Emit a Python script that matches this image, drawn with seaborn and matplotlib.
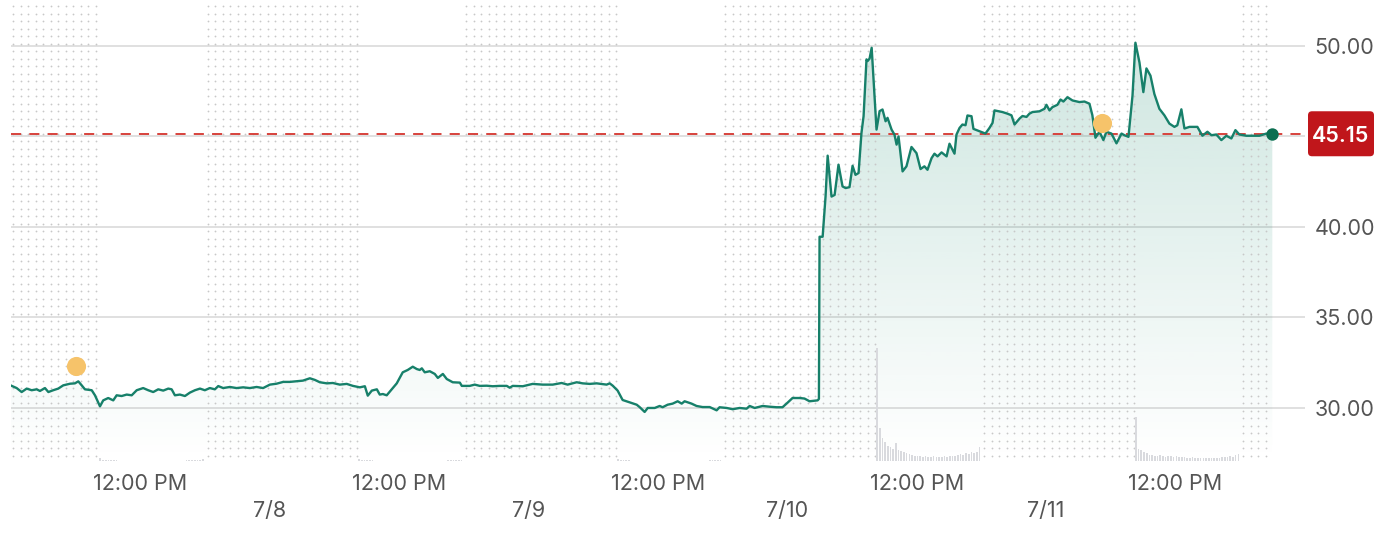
import numpy as np
import matplotlib
matplotlib.use("Agg")
import matplotlib.pyplot as plt
import matplotlib.transforms as mtransforms
from matplotlib.patches import FancyBboxPatch
from matplotlib.colors import to_rgb
import seaborn as sns

sns.set_theme(style="white")
plt.rcParams['font.family'] = ['Inter', 'DejaVu Sans']

# ---------------- data ----------------
# time axis: trading hours elapsed since 4:00 AM on 7/7, each day = 16 h (4:00-20:00)
day_labels = ["7/7", "7/8", "7/9", "7/10", "7/11"]
last_price = 45.15

hours_a = [0.0, 0.38, 0.69, 1.0, 1.31, 1.62, 1.82, 2.13, 2.34, 2.64, 2.95, 3.26, 3.68, 3.98, 4.19,
           4.40, 4.60, 5.02, 5.22, 5.53, 5.73, 6.04, 6.35, 6.56, 6.87, 7.18, 7.49, 7.80, 8.20, 8.51,
           8.82, 9.13, 9.44, 9.75, 9.96, 10.16, 10.47, 10.78, 11.09, 11.40, 11.71, 12.01, 12.32,
           12.63, 12.84, 13.14, 13.56, 13.97, 14.38, 14.79, 15.21, 15.61, 16.03, 16.44, 16.85,
           17.26, 17.88]
price_a = [31.25, 31.10, 30.88, 31.07, 30.98, 31.03, 30.94, 31.10, 30.88, 30.98, 31.07, 31.25,
           31.34, 31.36, 31.47, 31.25, 31.03, 30.98, 30.70, 30.09, 30.42, 30.55, 30.42, 30.70,
           30.66, 30.74, 30.70, 30.98, 31.10, 30.98, 30.88, 31.03, 30.96, 31.07, 31.03, 30.70,
           30.74, 30.66, 30.85, 30.98, 31.07, 30.98, 31.10, 31.03, 31.21, 31.10, 31.16, 31.10,
           31.14, 31.10, 31.16, 31.10, 31.29, 31.34, 31.44, 31.44, 31.49]

hours_b = [18.07, 18.50, 18.81, 19.12, 19.55, 19.92, 20.35, 20.78, 21.16, 21.59, 21.90, 22.08,
           22.33, 22.64, 22.82, 23.01, 23.25, 23.87, 24.24, 24.55, 24.86, 25.11, 25.29, 25.42,
           25.60, 25.91, 26.22, 26.41, 26.72, 26.96, 27.33, 27.77, 27.89, 28.38, 28.69, 29.00,
           29.43, 29.80, 30.23, 30.67, 30.85, 31.04, 31.66, 32.27, 32.89, 33.51, 34.06, 34.43,
           34.99, 35.36, 35.80, 36.22, 36.84, 37.03, 37.22, 37.52, 37.83, 38.26, 38.70, 38.89]
price_b = [31.51, 31.64, 31.55, 31.42, 31.36, 31.38, 31.29, 31.33, 31.22, 31.14, 31.20, 30.68,
           30.96, 31.03, 30.74, 30.77, 30.70, 31.36, 31.97, 32.10, 32.28, 32.15, 32.10, 32.19,
           31.97, 32.03, 31.88, 31.66, 31.88, 31.60, 31.42, 31.40, 31.22, 31.22, 31.29, 31.22,
           31.23, 31.20, 31.22, 31.22, 31.12, 31.22, 31.20, 31.33, 31.29, 31.29, 31.38, 31.29,
           31.42, 31.36, 31.33, 31.36, 31.29, 31.36, 31.23, 30.96, 30.44, 30.31, 30.18, 30.04]

hours_c = [39.19, 39.38, 39.81, 40.12, 40.30, 40.61, 40.92, 41.23, 41.48, 41.66, 42.09, 42.40,
           42.77, 43.21, 43.64, 43.82, 44.26, 44.63, 45.06, 45.49, 45.68, 45.99, 46.48, 46.91,
           47.34, 47.71, 48.02, 48.33, 48.77, 49.07, 49.38, 49.88, 49.96]
price_c = [29.78, 30.00, 30.00, 30.11, 30.04, 30.18, 30.24, 30.37, 30.24, 30.37, 30.24, 30.11,
           30.05, 30.05, 29.87, 30.04, 30.00, 29.93, 30.00, 29.96, 30.11, 30.00, 30.11, 30.07,
           30.04, 30.04, 30.29, 30.55, 30.55, 30.52, 30.37, 30.42, 30.50]

hours_d = [50.00, 50.19, 50.37, 50.50, 50.74, 50.93, 51.17, 51.42, 51.61, 51.85, 52.04, 52.22,
           52.41, 52.59, 52.72, 52.90, 52.97, 53.09, 53.22, 53.52, 53.71, 53.89, 54.08, 54.20,
           54.45, 54.63, 54.76, 54.88, 55.13, 55.37, 55.68, 55.99, 56.24, 56.48, 56.67, 56.92,
           57.10, 57.29, 57.54, 57.85, 58.03, 58.34, 58.46, 58.65, 58.83, 59.02, 59.14, 59.39,
           59.51, 59.88, 60.25, 60.50, 60.69, 60.81]
price_d = [39.46, 39.46, 41.68, 43.94, 41.68, 41.77, 43.44, 42.24, 42.15, 42.20, 43.38, 42.88,
           42.98, 45.20, 46.12, 49.26, 49.17, 49.30, 49.90, 45.38, 46.40, 46.49, 45.84, 46.03,
           45.38, 45.10, 44.55, 45.00, 43.07, 43.35, 44.42, 44.08, 43.20, 43.35, 43.16, 43.80,
           44.05, 43.90, 44.12, 43.90, 44.60, 44.05, 45.10, 45.47, 45.66, 45.62, 46.16, 46.12,
           45.42, 45.29, 45.16, 45.47, 45.75, 46.44]

hours_e = [61.30, 61.61, 61.86, 62.05, 62.36, 62.54, 62.79, 62.97, 63.16, 63.59, 63.90, 64.02,
           64.21, 64.39, 64.70, 64.89, 65.07, 65.32, 65.63, 66.06, 66.37, 66.68, 66.86, 67.05,
           67.30, 67.54, 67.73, 68.04, 68.35, 68.66, 68.84, 69.09, 69.34, 69.52, 69.77, 70.01,
           70.20, 70.45, 70.69, 71.00, 71.31, 71.62, 71.93, 72.11, 72.36, 72.55, 72.86, 73.35,
           73.66, 73.97, 74.22, 74.52, 74.83, 75.14, 75.45, 75.70, 75.94, 76.38, 76.75, 77.18,
           77.61, 77.98]
price_e = [46.35, 46.26, 46.17, 45.66, 45.99, 46.13, 46.08, 46.26, 46.35, 46.39, 46.53, 46.75,
           46.44, 46.62, 46.75, 47.04, 46.93, 47.17, 46.99, 46.90, 46.93, 46.81, 46.17, 44.93,
           45.26, 44.80, 45.26, 45.16, 44.62, 45.16, 45.07, 44.98, 47.26, 50.18, 49.09, 47.45,
           48.76, 48.36, 47.35, 46.53, 46.17, 45.71, 45.53, 45.62, 46.50, 45.44, 45.53, 45.53,
           45.04, 45.26, 45.07, 45.11, 44.80, 45.04, 44.89, 45.35, 45.11, 45.04, 45.04, 45.04,
           45.16, 45.15]

# 10-minute volume bars, regular session 9:30-16:00 (thousands of shares)
vol_0707 = [30, 12, 10, 8, 8, 6, 6, 5, 5, 5, 4, 4, 4, 4, 4, 3, 3, 4, 4, 3, 3, 3, 4, 4, 3, 3,
            4, 4, 4, 5, 5, 5, 6, 6, 7, 8, 9, 10, 18]
vol_0708 = [25, 10, 8, 7, 6, 6, 5, 5, 4, 4, 4, 4, 3, 3, 3, 3, 3, 3, 4, 3, 3, 3, 3, 3, 3, 4,
            4, 4, 4, 4, 5, 5, 5, 6, 6, 7, 8, 9, 15]
vol_0709 = [22, 9, 8, 7, 6, 5, 5, 5, 4, 4, 4, 3, 3, 3, 3, 3, 3, 3, 3, 3, 3, 3, 3, 4, 3, 3,
            3, 4, 4, 4, 4, 5, 5, 5, 6, 6, 7, 8, 14]
vol_0710 = [1130, 330, 230, 190, 150, 140, 120, 180, 110, 100, 90, 80, 70, 60, 50, 55, 50, 45,
            50, 40, 45, 50, 45, 40, 45, 50, 45, 50, 55, 50, 60, 70, 65, 80, 75, 90, 80, 95, 140]
vol_0711 = [440, 120, 110, 90, 80, 60, 60, 55, 50, 60, 50, 45, 50, 55, 45, 50, 40, 45, 40, 35,
            35, 40, 30, 35, 30, 35, 30, 30, 35, 30, 35, 35, 40, 40, 45, 50, 45, 60, 70]
volumes = [vol_0707, vol_0708, vol_0709, vol_0710, vol_0711]

event_hours = [4.05, 67.48]
event_price = [32.30, 45.75]

hours = hours_a + hours_b + hours_c + hours_d + hours_e
price = price_a + price_b + price_c + price_d + price_e

# ---------------- layout ----------------
W, H = 1388, 536
fig = plt.figure(figsize=(W / 100, H / 100), dpi=100)
ax_left, ax_right, ax_bottom = 10.5, 1305, 461
ax = fig.add_axes([ax_left / W, 1 - ax_bottom / H, (ax_right - ax_left) / W, ax_bottom / H])
y0, y1 = 27.07, 52.54
x0, x1 = 0, 80
ax.set_xlim(x0, x1)
ax.set_ylim(y0, y1)

line_color = "#17806a"
fill_color = np.array(to_rgb("#1a8a6e"))
text_gray = "#555555"
fs = 15.5

# extended-hours regions (dotted background)
regions = []
for d in range(len(day_labels)):
    pre = (16 * d, 16 * d + 5.5)
    post_end = min(16 * d + 16, hours[-1])
    if regions and abs(regions[-1][1] - pre[0]) < 1e-9:
        regions[-1] = (regions[-1][0], pre[1])
    else:
        regions.append(pre)
    regions.append((16 * d + 12, post_end))
ys_dot = np.arange(27.35, 52.5, 0.414)
for a, b in regions:
    xs_dot = np.arange(a + 0.18, b - 0.05, 0.463)
    X, Y = np.meshgrid(xs_dot, ys_dot)
    ax.scatter(X.ravel(), Y.ravel(), s=1.7, color="#c8c8c8", linewidths=0, zorder=2)

# gradient fill under line
n = 256
grad = np.zeros((n, 1, 4))
grad[..., :3] = fill_color
lev = np.linspace(y0, y1, n)
grad[:, 0, 3] = np.clip(0.21 * (lev - y0) / (50 - y0), 0, 0.26)
im = ax.imshow(grad, extent=[x0, x1, y0, y1], origin="lower", aspect="auto", zorder=1,
               interpolation="bilinear")
poly = ax.fill_between(hours, price, y0, facecolor="none", edgecolor="none")
im.set_clip_path(poly.get_paths()[0], transform=ax.transData)

# grid
ax.set_yticks([30, 35, 40, 45, 50])
ax.set_yticklabels(["30.00", "35.00", "40.00", "", "50.00"])
ax.grid(axis="y", color="#dadada", lw=1.2)
ax.grid(axis="x", visible=False)
ax.set_axisbelow(True)

# last price dashed line
ax.axhline(last_price, color="#d7423c", lw=1.4, dashes=(5.2, 4.2), zorder=3)

# price line
sns.lineplot(x=hours, y=price, ax=ax, color=line_color, lw=1.7, estimator=None, sort=False,
             zorder=4)

# event markers and last point
ax.scatter(event_hours, event_price, s=190, color="#f6c36a", linewidths=0, zorder=5)
ax.scatter([hours[-1]], [price[-1]], s=80, color="#0b6e50", linewidths=0, zorder=6)

# volume
ax2 = ax.twinx()
for d, vols in enumerate(volumes):
    t_start = 16 * d + 5.5
    xs = [t_start + i / 6 for i in range(len(vols))]
    ax2.bar(xs, vols, width=0.1, align="edge", color="#d9dade", linewidth=0, zorder=1)
ax2.set_ylim(0, 4610)
ax2.set_yticks([])
ax2.set_xlim(x0, x1)
for sp in ax2.spines.values():
    sp.set_visible(False)

# axes styling
for sp in ax.spines.values():
    sp.set_visible(False)
ax.yaxis.tick_right()
ax.tick_params(axis="y", length=0, pad=7, labelsize=fs, labelcolor=text_gray)
ax.set_xticks([16 * d + 8 for d in range(len(day_labels))])
ax.set_xticklabels(["12:00 PM"] * len(day_labels))
ax.set_xticks([16 * d for d in range(1, len(day_labels))], minor=True)
ax.set_xticklabels(day_labels[1:], minor=True)
ax.tick_params(axis="x", which="major", length=0, pad=9, labelsize=fs, labelcolor=text_gray)
ax.tick_params(axis="x", which="minor", length=0, pad=29, labelsize=fs, labelcolor=text_gray)
ax.set_xlabel("")
ax.set_ylabel("")
ax2.set_ylabel("")

# price tag (drawn in display pixels, anchored at the last price level)
_, y_disp = ax.transData.transform((x1, last_price))
box_w, box_h = 66, 45
box_x = ax_right + 3
tag = FancyBboxPatch((box_x, y_disp - box_h / 2), box_w, box_h,
                     boxstyle="round,pad=0,rounding_size=4",
                     transform=mtransforms.IdentityTransform(),
                     fc="#c0161b", ec="none", zorder=10)
fig.add_artist(tag)
fig.text(box_x + box_w / 2, y_disp, f"{last_price:.2f}",
         transform=mtransforms.IdentityTransform(), ha="center", va="center_baseline",
         color="white", fontsize=15.5, fontweight="semibold", zorder=11)

fig.savefig("out.png", dpi=100, facecolor="white")
